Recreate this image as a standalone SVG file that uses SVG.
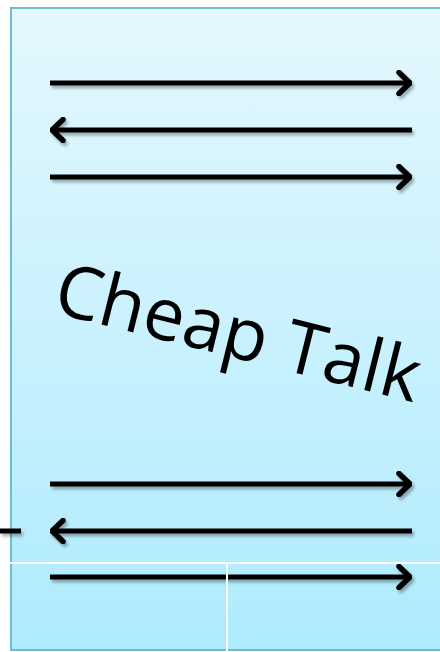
<svg xmlns="http://www.w3.org/2000/svg" width="440" height="652" viewBox="0 0 440 652">
<defs>
<linearGradient id="bg" x1="0" y1="0" x2="0" y2="1">
<stop offset="0" stop-color="#e5f8fe"/>
<stop offset="1" stop-color="#aeebfd"/>
</linearGradient>
<filter id="sh" filterUnits="userSpaceOnUse" x="0" y="0" width="440" height="652">
<feDropShadow dx="2" dy="3" stdDeviation="1.5" flood-color="#000" flood-opacity="0.3"/>
</filter>
<marker id="head" viewBox="0 0 16 26" refX="14" refY="13" markerWidth="16" markerHeight="26" markerUnits="userSpaceOnUse" orient="auto-start-reverse">
<path d="M3,2.5 L14,13 L3,23.5" fill="none" stroke="#000" stroke-width="5.5" stroke-linecap="round" stroke-linejoin="round"/>
</marker>
<style>
.arr{stroke:#000;stroke-width:5;fill:none;marker-end:url(#head)}
.arrl{stroke:#000;stroke-width:5;fill:none;marker-start:url(#head)}
.lbl{font-family:"Open Sans","DejaVu Sans",sans-serif;font-size:73px;fill:#000}
</style>
</defs>
<rect width="440" height="652" fill="#fff"/>
<g id="panel">
<rect x="11" y="8" width="440" height="642" fill="url(#bg)" stroke="#6bbdd0" stroke-width="2"/>
</g>
<g id="connectors" filter="url(#sh)">
<line class="arr" x1="50" y1="83" x2="410" y2="83"/>
<line class="arrl" x1="52" y1="130" x2="412" y2="130"/>
<line class="arr" x1="50" y1="177" x2="410" y2="177"/>
<line class="arr" x1="50" y1="484" x2="410" y2="484"/>
<line class="arrl" x1="52" y1="531" x2="412" y2="531"/>
<line class="arr" x1="50" y1="577" x2="410" y2="577"/>
<line x1="0" y1="531" x2="21" y2="531" stroke="#000" stroke-width="5"/>
</g>
<g id="label">
<text class="lbl" x="51" y="312" transform="rotate(14 51 312)">Cheap Talk</text>
</g>
<g id="grid" stroke="#fff" stroke-width="2">
<line x1="0" y1="563" x2="440" y2="563"/>
<line x1="227" y1="563" x2="227" y2="652"/>
</g>
</svg>
